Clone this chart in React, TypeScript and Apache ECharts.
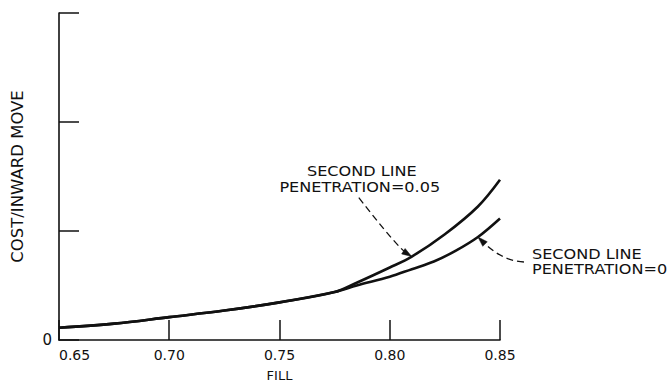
import React, { useEffect, useRef } from "react";
import * as echarts from "echarts";

// x-axis: FILL, y-axis: COST/INWARD MOVE
const xTickLabels = ["0.65", "0.70", "0.75", "0.80", "0.85"];
const yTickLabels = ["0", "", "", ""];

// shared part of both curves
const commonFill = [0.65, 0.675, 0.7, 0.725, 0.75, 0.775];
const commonCost = [0.113, 0.15, 0.21, 0.27, 0.345, 0.44];

// second line penetration = 0.05 (upper curve)
const pen005Fill = [0.785, 0.8, 0.81, 0.825, 0.84, 0.85];
const pen005Cost = [0.525, 0.665, 0.765, 0.97, 1.225, 1.47];

// second line penetration = 0 (lower curve)
const pen0Fill = [0.785, 0.8, 0.81, 0.82, 0.83, 0.84, 0.85];
const pen0Cost = [0.5, 0.58, 0.65, 0.72, 0.82, 0.945, 1.115];

// annotation anchors (points on the curves)
const upperAnchor = [0.81, 0.765];
const lowerAnchor = [0.84, 0.945];
const upperLabel = ["SECOND LINE", "PENETRATION=0.05"];
const lowerLabel = ["SECOND LINE", "PENETRATION=0"];

const INK = "#111";
const FONT = "DejaVu Sans";

function zip(xs: number[], ys: number[]) {
  return xs.map((x, i) => [x, ys[i]]);
}

function arrow(tip: number[], tail: number[], cp: number[]) {
  const dx = tip[0] - cp[0];
  const dy = tip[1] - cp[1];
  const len = Math.sqrt(dx * dx + dy * dy) || 1;
  const ux = dx / len;
  const uy = dy / len;
  const L = 10;
  const W = 3.2;
  const bx = tip[0] - ux * L;
  const by = tip[1] - uy * L;
  return [
    {
      type: "bezierCurve",
      shape: {
        x1: tail[0],
        y1: tail[1],
        x2: tip[0] - ux * 6,
        y2: tip[1] - uy * 6,
        cpx1: cp[0],
        cpy1: cp[1],
      },
      style: { stroke: INK, lineWidth: 1.3, lineDash: [7, 4], fill: null },
      silent: true,
    },
    {
      type: "polygon",
      shape: {
        points: [
          [tip[0], tip[1]],
          [bx - uy * W, by + ux * W],
          [bx + uy * W, by - ux * W],
        ],
      },
      style: { fill: INK, stroke: INK, lineWidth: 0.5 },
      silent: true,
    },
  ];
}

function label(text: string, x: number, y: number, align: string) {
  return {
    type: "text",
    x,
    y,
    scaleX: 1.15,
    style: {
      text,
      fontSize: 14,
      fontFamily: FONT,
      fill: INK,
      align,
      verticalAlign: "middle",
    },
    silent: true,
  };
}

export default function App() {
  const ref = useRef<HTMLDivElement>(null);

  useEffect(() => {
    if (!ref.current) return;
    const chart = echarts.init(ref.current, undefined, { renderer: "svg" });
    const lineStyle = { color: INK, width: 2.6 };
    chart.setOption({
      animation: false,
      backgroundColor: "#fff",
      grid: {
        left: 59,
        right: 170,
        top: 13,
        bottom: 42,
        containLabel: false,
        outerBoundsMode: "none",
      },
      xAxis: {
        type: "value",
        min: 0.65,
        max: 0.85,
        interval: 0.05,
        name: "FILL",
        nameLocation: "middle",
        nameGap: 35,
        nameTextStyle: { color: INK, fontSize: 13, fontFamily: FONT, verticalAlign: "middle" },
        axisLine: { show: true, lineStyle: { color: INK, width: 1.6 } },
        axisTick: { show: true, inside: true, length: 20, lineStyle: { color: INK, width: 1.5 } },
        splitLine: { show: false },
        axisLabel: {
          color: INK,
          fontSize: 14,
          fontFamily: FONT,
          margin: 8,
          alignMinLabel: "left",
          formatter: (v: number) => {
            const i = Math.round((v - 0.65) / 0.05);
            return xTickLabels[i] ?? "";
          },
        },
      },
      yAxis: {
        type: "value",
        min: 0,
        max: 3,
        interval: 1,
        name: "COST/INWARD MOVE",
        nameLocation: "middle",
        nameRotate: 90,
        nameGap: 42,
        nameTextStyle: { color: INK, fontSize: 16.5, fontFamily: FONT, verticalAlign: "middle" },
        axisLine: { show: true, lineStyle: { color: INK, width: 1.6 } },
        axisTick: { show: true, inside: true, length: 20, lineStyle: { color: INK, width: 1.5 } },
        splitLine: { show: false },
        axisLabel: {
          color: INK,
          fontSize: 15,
          fontFamily: FONT,
          margin: 7,
          formatter: (v: number) => yTickLabels[Math.round(v)] ?? "",
        },
      },
      series: [
        {
          name: "SECOND LINE PENETRATION=0.05",
          type: "line",
          smooth: 0.35,
          showSymbol: false,
          symbol: "none",
          lineStyle,
          data: zip(commonFill, commonCost).concat(zip(pen005Fill, pen005Cost)),
        },
        {
          name: "SECOND LINE PENETRATION=0",
          type: "line",
          smooth: 0.35,
          showSymbol: false,
          symbol: "none",
          lineStyle,
          data: zip(commonFill, commonCost).concat(zip(pen0Fill, pen0Cost)),
        },
      ],
    });

    const up = chart.convertToPixel({ gridIndex: 0 }, upperAnchor) as number[];
    const lo = chart.convertToPixel({ gridIndex: 0 }, lowerAnchor) as number[];

    const graphic: any[] = [];
    graphic.push(...arrow(up, [up[0] - 53, up[1] - 59], [up[0] - 14, up[1] - 9]));
    graphic.push(label(upperLabel[0], up[0] - 50, up[1] - 85, "center"));
    graphic.push(label(upperLabel[1], up[0] - 52, up[1] - 69, "center"));
    graphic.push(...arrow(lo, [lo[0] + 46, lo[1] + 25], [lo[0] + 24, lo[1] + 24]));
    graphic.push(label(lowerLabel[0], lo[0] + 54, lo[1] + 17, "left"));
    graphic.push(label(lowerLabel[1], lo[0] + 54, lo[1] + 32, "left"));
    chart.setOption({ graphic });

    return () => chart.dispose();
  }, []);

  return (
    <div
      ref={ref}
      style={{ position: "fixed", left: 0, top: 0, width: 670, height: 382, background: "#fff" }}
    />
  );
}
